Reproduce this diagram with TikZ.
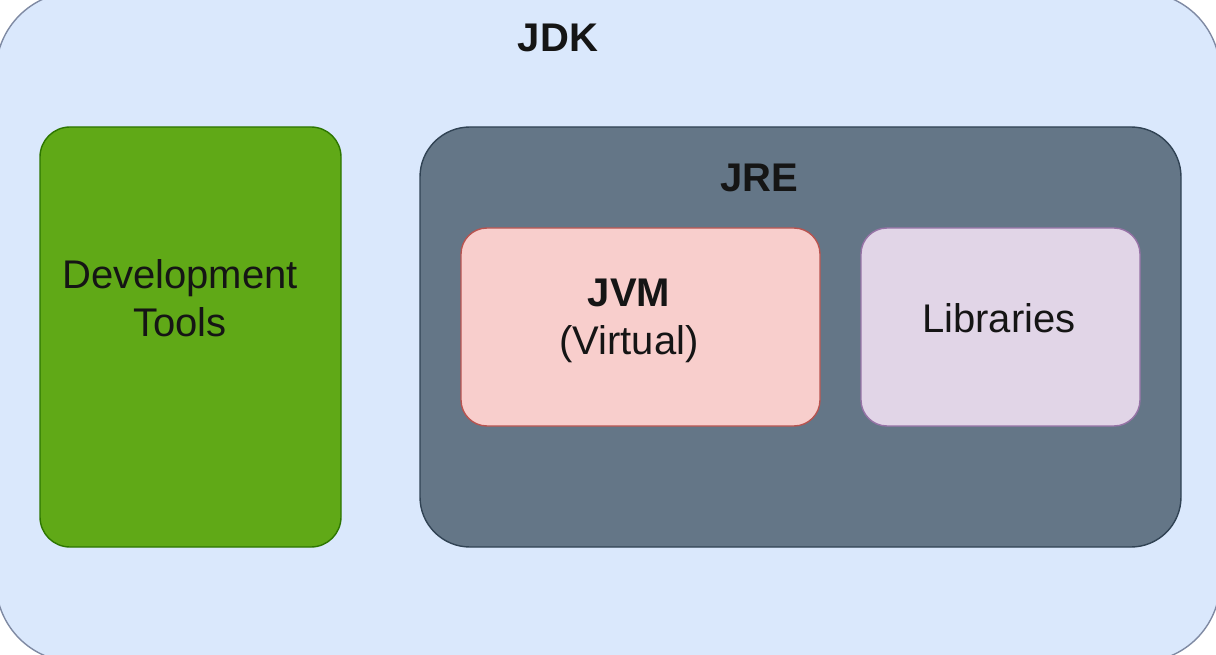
\documentclass[tikz,border=0pt]{standalone}
\usepackage{fontspec}
\setmainfont{Liberation Sans}
\definecolor{jdkfill}{HTML}{DAE8FC}
\definecolor{jdkline}{HTML}{7F8AA3}
\definecolor{devfill}{HTML}{60A917}
\definecolor{devline}{HTML}{2D7600}
\definecolor{jrefill}{HTML}{647687}
\definecolor{jreline}{HTML}{314354}
\definecolor{jvmfill}{HTML}{F8CECC}
\definecolor{jvmline}{HTML}{B85450}
\definecolor{libfill}{HTML}{E1D5E7}
\definecolor{libline}{HTML}{9673A6}
\definecolor{txt}{HTML}{151515}
\begin{document}
\begin{tikzpicture}[x=1pt,y=-1pt,
  boxstyle/.style={line width=1.4pt},
  lbl/.style={text=txt,font=\fontsize{40}{48}\selectfont,anchor=base,inner sep=0pt},
  blbl/.style={lbl,font=\fontsize{40}{48}\selectfont\bfseries}]
\useasboundingbox (0,0) rectangle (1216,655);
\clip (0,0) rectangle (1216,655);
\fill[white] (0,0) rectangle (1216,655);
% JDK outer box
\draw[boxstyle,fill=jdkfill,draw=jdkline,rounded corners=80pt] (-4,-8) rectangle (1220,662);
\coordinate (jdkc) at (558,52);
\node[blbl] (jdk) at (jdkc) {JDK};
% Development tools
\node[boxstyle,draw=devline,fill=devfill,rounded corners=30pt,minimum width=301pt,minimum height=420pt,inner sep=0pt] (dev) at (190.5,337) {};
\node[lbl] (devt1) at (180,288) {Development};
\node[lbl] (devt2) at (180,336) {Tools};
% JRE
\node[boxstyle,draw=jreline,fill=jrefill,rounded corners=50pt,minimum width=761pt,minimum height=420pt,inner sep=0pt] (jre) at (800.5,337) {};
\node[blbl] (jret) at (759,192) {JRE};
% JVM
\node[boxstyle,draw=jvmline,fill=jvmfill,rounded corners=26pt,minimum width=359pt,minimum height=198pt,inner sep=0pt] (jvm) at (640.5,327) {};
\node[blbl] (jvmt1) at (629,306) {JVM};
\node[lbl] (jvmt2) at (629,354) {(Virtual)};
% Libraries
\node[boxstyle,draw=libline,fill=libfill,rounded corners=26pt,minimum width=279pt,minimum height=198pt,inner sep=0pt] (lib) at (1000.5,327) {};
\node[lbl] (libt) at (999,332) {Libraries};
\end{tikzpicture}
\end{document}
